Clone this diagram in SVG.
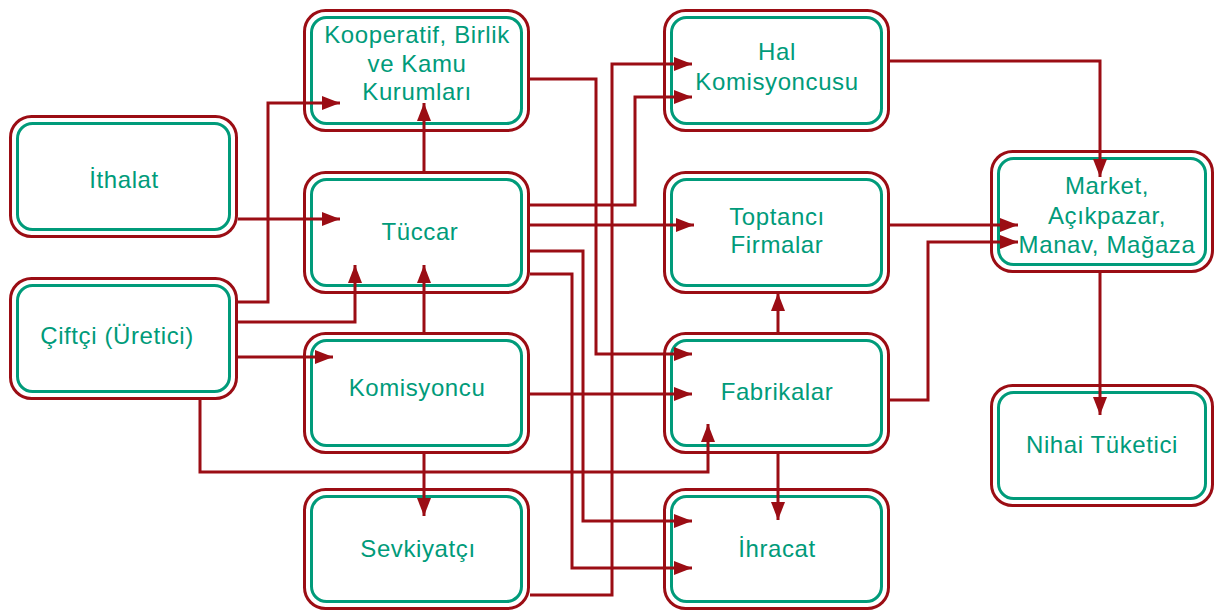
<svg xmlns="http://www.w3.org/2000/svg" width="1215" height="612" viewBox="0 0 1215 612">
<defs>
<style>
.o{fill:#fff;stroke:#9b0d14;stroke-width:3}
.i{fill:none;stroke:#009b7a;stroke-width:3}
.t{font-family:"Liberation Sans",Arial,sans-serif;font-size:24px;letter-spacing:0.6px;fill:#009b7a;text-anchor:middle}
.c{fill:none;stroke:#9b0d14;stroke-width:3;marker-end:url(#ah)}
</style>
<marker id="ah" markerUnits="userSpaceOnUse" markerWidth="20" markerHeight="14" refX="18" refY="7" orient="auto">
<path d="M0,0 L18,7 L0,14 Z" fill="#9b0d14"/>
</marker>
</defs>
<rect width="1215" height="612" fill="#fff"/>
<g id="ithalat"><rect class="o" x="10.5" y="116.5" width="226" height="120" rx="21"/><rect class="i" x="17.5" y="123.5" width="212" height="106" rx="15"/><text class="t" x="124" y="188">İthalat</text></g>
<g id="ciftci"><rect class="o" x="10.5" y="278.5" width="226" height="120" rx="21"/><rect class="i" x="17.5" y="285.5" width="212" height="106" rx="15"/><text class="t" x="117" y="344">Çiftçi (Üretici)</text></g>
<g id="kooperatif"><rect class="o" x="304.5" y="10.5" width="224" height="120" rx="21"/><rect class="i" x="311.5" y="17.5" width="210" height="106" rx="15"/><text class="t" x="417" y="43">Kooperatif, Birlik</text><text class="t" x="417" y="72">ve Kamu</text><text class="t" x="417" y="100">Kurumları</text></g>
<g id="tuccar"><rect class="o" x="304.5" y="172.5" width="224" height="120" rx="21"/><rect class="i" x="311.5" y="179.5" width="210" height="106" rx="15"/><text class="t" x="420" y="240">Tüccar</text></g>
<g id="komisyoncu"><rect class="o" x="304.5" y="333.5" width="224" height="119" rx="21"/><rect class="i" x="311.5" y="340.5" width="210" height="105" rx="15"/><text class="t" x="417" y="396">Komisyoncu</text></g>
<g id="sevkiyatci"><rect class="o" x="304.5" y="489.5" width="224" height="119" rx="21"/><rect class="i" x="311.5" y="496.5" width="210" height="105" rx="15"/><text class="t" x="418" y="557">Sevkiyatçı</text></g>
<g id="hal"><rect class="o" x="664.5" y="10.5" width="224" height="120" rx="21"/><rect class="i" x="671.5" y="17.5" width="210" height="106" rx="15"/><text class="t" x="777" y="60">Hal</text><text class="t" x="777" y="90">Komisyoncusu</text></g>
<g id="toptanci"><rect class="o" x="664.5" y="172.5" width="224" height="120" rx="21"/><rect class="i" x="671.5" y="179.5" width="210" height="106" rx="15"/><text class="t" x="777" y="225">Toptancı</text><text class="t" x="777" y="253">Firmalar</text></g>
<g id="fabrikalar"><rect class="o" x="664.5" y="333.5" width="224" height="119" rx="21"/><rect class="i" x="671.5" y="340.5" width="210" height="105" rx="15"/><text class="t" x="777" y="400">Fabrikalar</text></g>
<g id="ihracat"><rect class="o" x="664.5" y="489.5" width="224" height="119" rx="21"/><rect class="i" x="671.5" y="496.5" width="210" height="105" rx="15"/><text class="t" x="777" y="557">İhracat</text></g>
<g id="market"><rect class="o" x="991.5" y="151.5" width="221" height="120" rx="21"/><rect class="i" x="998.5" y="158.5" width="207" height="106" rx="15"/><text class="t" x="1107" y="194">Market,</text><text class="t" x="1107" y="224">Açıkpazar,</text><text class="t" x="1107" y="253">Manav, Mağaza</text></g>
<g id="nihai"><rect class="o" x="991.5" y="385.5" width="221" height="120" rx="21"/><rect class="i" x="998.5" y="392.5" width="207" height="106" rx="15"/><text class="t" x="1102" y="453">Nihai Tüketici</text></g>
<g id="connectors">
<path class="c" d="M238 219 H340"/>
<path class="c" d="M238 302 H268 V103 H340"/>
<path class="c" d="M238 322 H355 V265"/>
<path class="c" d="M238 357 H333"/>
<path class="c" d="M200 400 V472 H708 V424"/>
<path class="c" d="M424 171 V103"/>
<path class="c" d="M424 332 V265"/>
<path class="c" d="M424 454 V516"/>
<path class="c" d="M530 394 H692"/>
<path class="c" d="M530 79 H596 V354 H692"/>
<path class="c" d="M530 595 H612 V64 H692"/>
<path class="c" d="M530 205 H635 V97 H692"/>
<path class="c" d="M530 225 H694"/>
<path class="c" d="M530 251 H583 V521 H692"/>
<path class="c" d="M530 274 H572 V568 H692"/>
<path class="c" d="M778 332 V293"/>
<path class="c" d="M778 454 V520"/>
<path class="c" d="M890 400 H928 V242 H1018"/>
<path class="c" d="M890 225 H1018"/>
<path class="c" d="M890 61 H1100 V177"/>
<path class="c" d="M1100 273 V415"/>
</g>
</svg>
